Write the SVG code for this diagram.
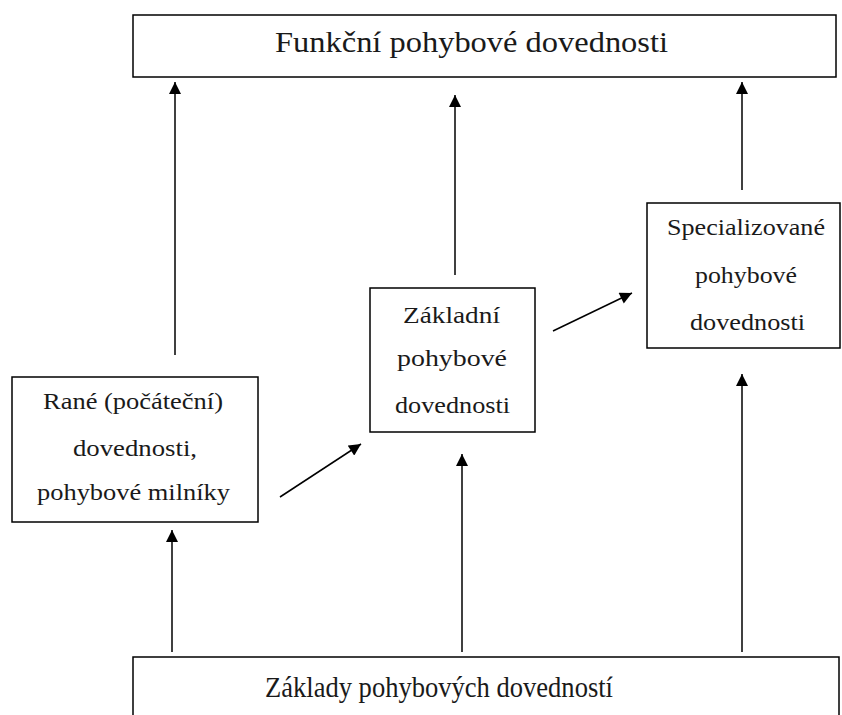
<svg xmlns="http://www.w3.org/2000/svg" width="842" height="715" viewBox="0 0 842 715">
<style>
.box{fill:#fff;stroke:#000;stroke-width:1.5}
text{font-family:'Liberation Serif','Times New Roman',serif;fill:#1a1a1a}
.big{font-size:30px}
.sm{font-size:24px}
.c{stroke:#000;stroke-width:1.5;fill:none;marker-end:url(#ah)}
</style>
<defs>
<marker id="ah" viewBox="0 0 12 12" refX="12" refY="6" markerWidth="13" markerHeight="12" markerUnits="userSpaceOnUse" orient="auto">
<path d="M0,0 L12,6 L0,12 z" fill="#000"/>
</marker>
</defs>
<rect width="842" height="715" fill="#fff"/>
<g id="connectors">
<line class="c" x1="175" y1="355" x2="175" y2="82"/>
<line class="c" x1="455" y1="275" x2="455" y2="95"/>
<line class="c" x1="742" y1="190" x2="742" y2="82"/>
<line class="c" x1="172" y1="652" x2="172" y2="530"/>
<line class="c" x1="462" y1="652" x2="462" y2="454"/>
<line class="c" x1="742" y1="652" x2="742" y2="374"/>
<line class="c" x1="280" y1="497" x2="361" y2="444"/>
<line class="c" x1="553" y1="331" x2="632" y2="293"/>
</g>
<g id="n_funkcni">
<rect class="box" x="133" y="15" width="703" height="62"/>
<text class="big" x="275" y="52" textLength="393" lengthAdjust="spacingAndGlyphs">Funkční pohybové dovednosti</text>
</g>
<g id="n_rane">
<rect class="box" x="12" y="377" width="246" height="145"/>
<text class="sm" x="43" y="409" textLength="180" lengthAdjust="spacingAndGlyphs">Rané (počáteční)</text>
<text class="sm" x="73" y="456" textLength="124" lengthAdjust="spacingAndGlyphs">dovednosti,</text>
<text class="sm" x="37" y="500" textLength="193" lengthAdjust="spacingAndGlyphs">pohybové milníky</text>
</g>
<g id="n_zakladni">
<rect class="box" x="370" y="288" width="165" height="144"/>
<text class="sm" x="403" y="323" textLength="97" lengthAdjust="spacingAndGlyphs">Základní</text>
<text class="sm" x="397" y="366" textLength="110" lengthAdjust="spacingAndGlyphs">pohybové</text>
<text class="sm" x="395" y="413" textLength="115" lengthAdjust="spacingAndGlyphs">dovednosti</text>
</g>
<g id="n_special">
<rect class="box" x="647" y="203" width="193" height="145"/>
<text class="sm" x="667" y="235" textLength="158" lengthAdjust="spacingAndGlyphs">Specializované</text>
<text class="sm" x="695" y="283" textLength="102" lengthAdjust="spacingAndGlyphs">pohybové</text>
<text class="sm" x="690" y="330" textLength="115" lengthAdjust="spacingAndGlyphs">dovednosti</text>
</g>
<g id="n_zaklady">
<rect class="box" x="133" y="657" width="706" height="70"/>
<text class="big" x="265" y="697" textLength="348" lengthAdjust="spacingAndGlyphs">Základy pohybových dovedností</text>
</g>
</svg>
